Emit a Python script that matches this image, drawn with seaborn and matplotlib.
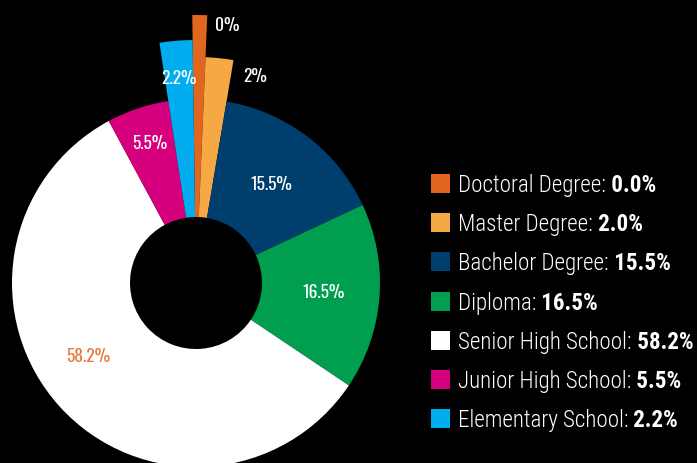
import numpy as np
import matplotlib
matplotlib.use("Agg")
import matplotlib.pyplot as plt
from matplotlib.patches import Rectangle
import seaborn as sns

# Education level shares (percent)
categories = ["Doctoral Degree", "Master Degree", "Bachelor Degree", "Diploma",
              "Senior High School", "Junior High School", "Elementary School"]
values = [0.0, 2.0, 15.5, 16.5, 58.2, 5.5, 2.2]
slice_labels = ["0%", "2%", "15.5%", "16.5%", "58.2%", "5.5%", "2.2%"]
legend_values = ["0.0%", "2.0%", "15.5%", "16.5%", "58.2%", "5.5%", "2.2%"]

colors = ["#E1661F", "#F5A843", "#003F6D", "#009E4F", "#FFFFFF", "#D6007F", "#00AEEF"]

sns.set_theme(style="dark", rc={"figure.facecolor": "black", "axes.facecolor": "black"})
plt.rcParams["font.family"] = ["Roboto Condensed", "DejaVu Sans"]
LABEL_FONT = ["Oswald", "Roboto Condensed", "DejaVu Sans"]
LEGEND_FONT = ["Roboto Condensed", "DejaVu Sans"]

W, H = 697, 463
fig = plt.figure(figsize=(W / 100, H / 100), dpi=100, facecolor="black")
ax = fig.add_axes([0, 0, 1, 1])

# donut geometry (axes units are pixels)
cx, cy = 196, H - 283
r_main, r_hole = 184, 66
# outer radius per slice (some slices are pulled outward)
outer_r = [268, 226, r_main, r_main, r_main, r_main, 243]
min_share = 0.9   # smallest drawn share so a 0% slice stays visible
shares = [max(v, min_share) for v in values]

wedges, _ = ax.pie(shares, colors=sns.color_palette(colors), startangle=90.8,
                   counterclock=False, radius=r_main, center=(cx, cy),
                   wedgeprops=dict(width=r_main - r_hole, linewidth=0))
for w, r in zip(wedges, outer_r):
    w.set_radius(r)
    w.set_width(r - r_hole)

# slice labels
label_style = {
    # index: (mode, radius, angle nudge, color)
    0: ("out", 258, -1.8, "white"),
    1: ("out", 212, -3.2, "white"),
    2: ("in", 124, 0, "white"),
    3: ("in", 128, 0, "white"),
    4: ("in", 131, -8, "#E87B3C"),
    5: ("in", 147, 0, "white"),
    6: ("in", 205, 0, "white"),
}
for i, w in enumerate(wedges):
    mode, rl, nudge, col = label_style[i]
    if mode == "in":
        ang = np.deg2rad((w.theta1 + w.theta2) / 2 + nudge)
        ha = "center"
    else:
        ang = np.deg2rad(w.theta1 + nudge)
        ha = "left"
    x = cx + rl * np.cos(ang)
    y = cy + rl * np.sin(ang)
    ax.text(x, y, slice_labels[i], color=col, fontsize=12.5, ha=ha, va="center",
            family=LABEL_FONT)

# legend: coloured square, name, bold value
row0, step = 183.5, 39.2
for i, (name, val, col) in enumerate(zip(categories, legend_values, colors)):
    yc = H - (row0 + i * step)
    ax.add_patch(Rectangle((431, yc - 9.5), 19, 19, facecolor=col, edgecolor="none"))
    t = ax.text(458, yc - 8.5, name + ":", color="white", fontsize=16.6,
                fontweight="light", ha="left", va="baseline", family=LEGEND_FONT)
    ax.annotate(" " + val, xy=(1, 0), xycoords=t, color="white", fontsize=16.6,
                fontweight="bold", ha="left", va="bottom", family=LEGEND_FONT)

ax.set_xlim(0, W)
ax.set_ylim(0, H)
ax.set_aspect("auto")
ax.axis("off")

fig.savefig("out.png", dpi=100, facecolor="black")
